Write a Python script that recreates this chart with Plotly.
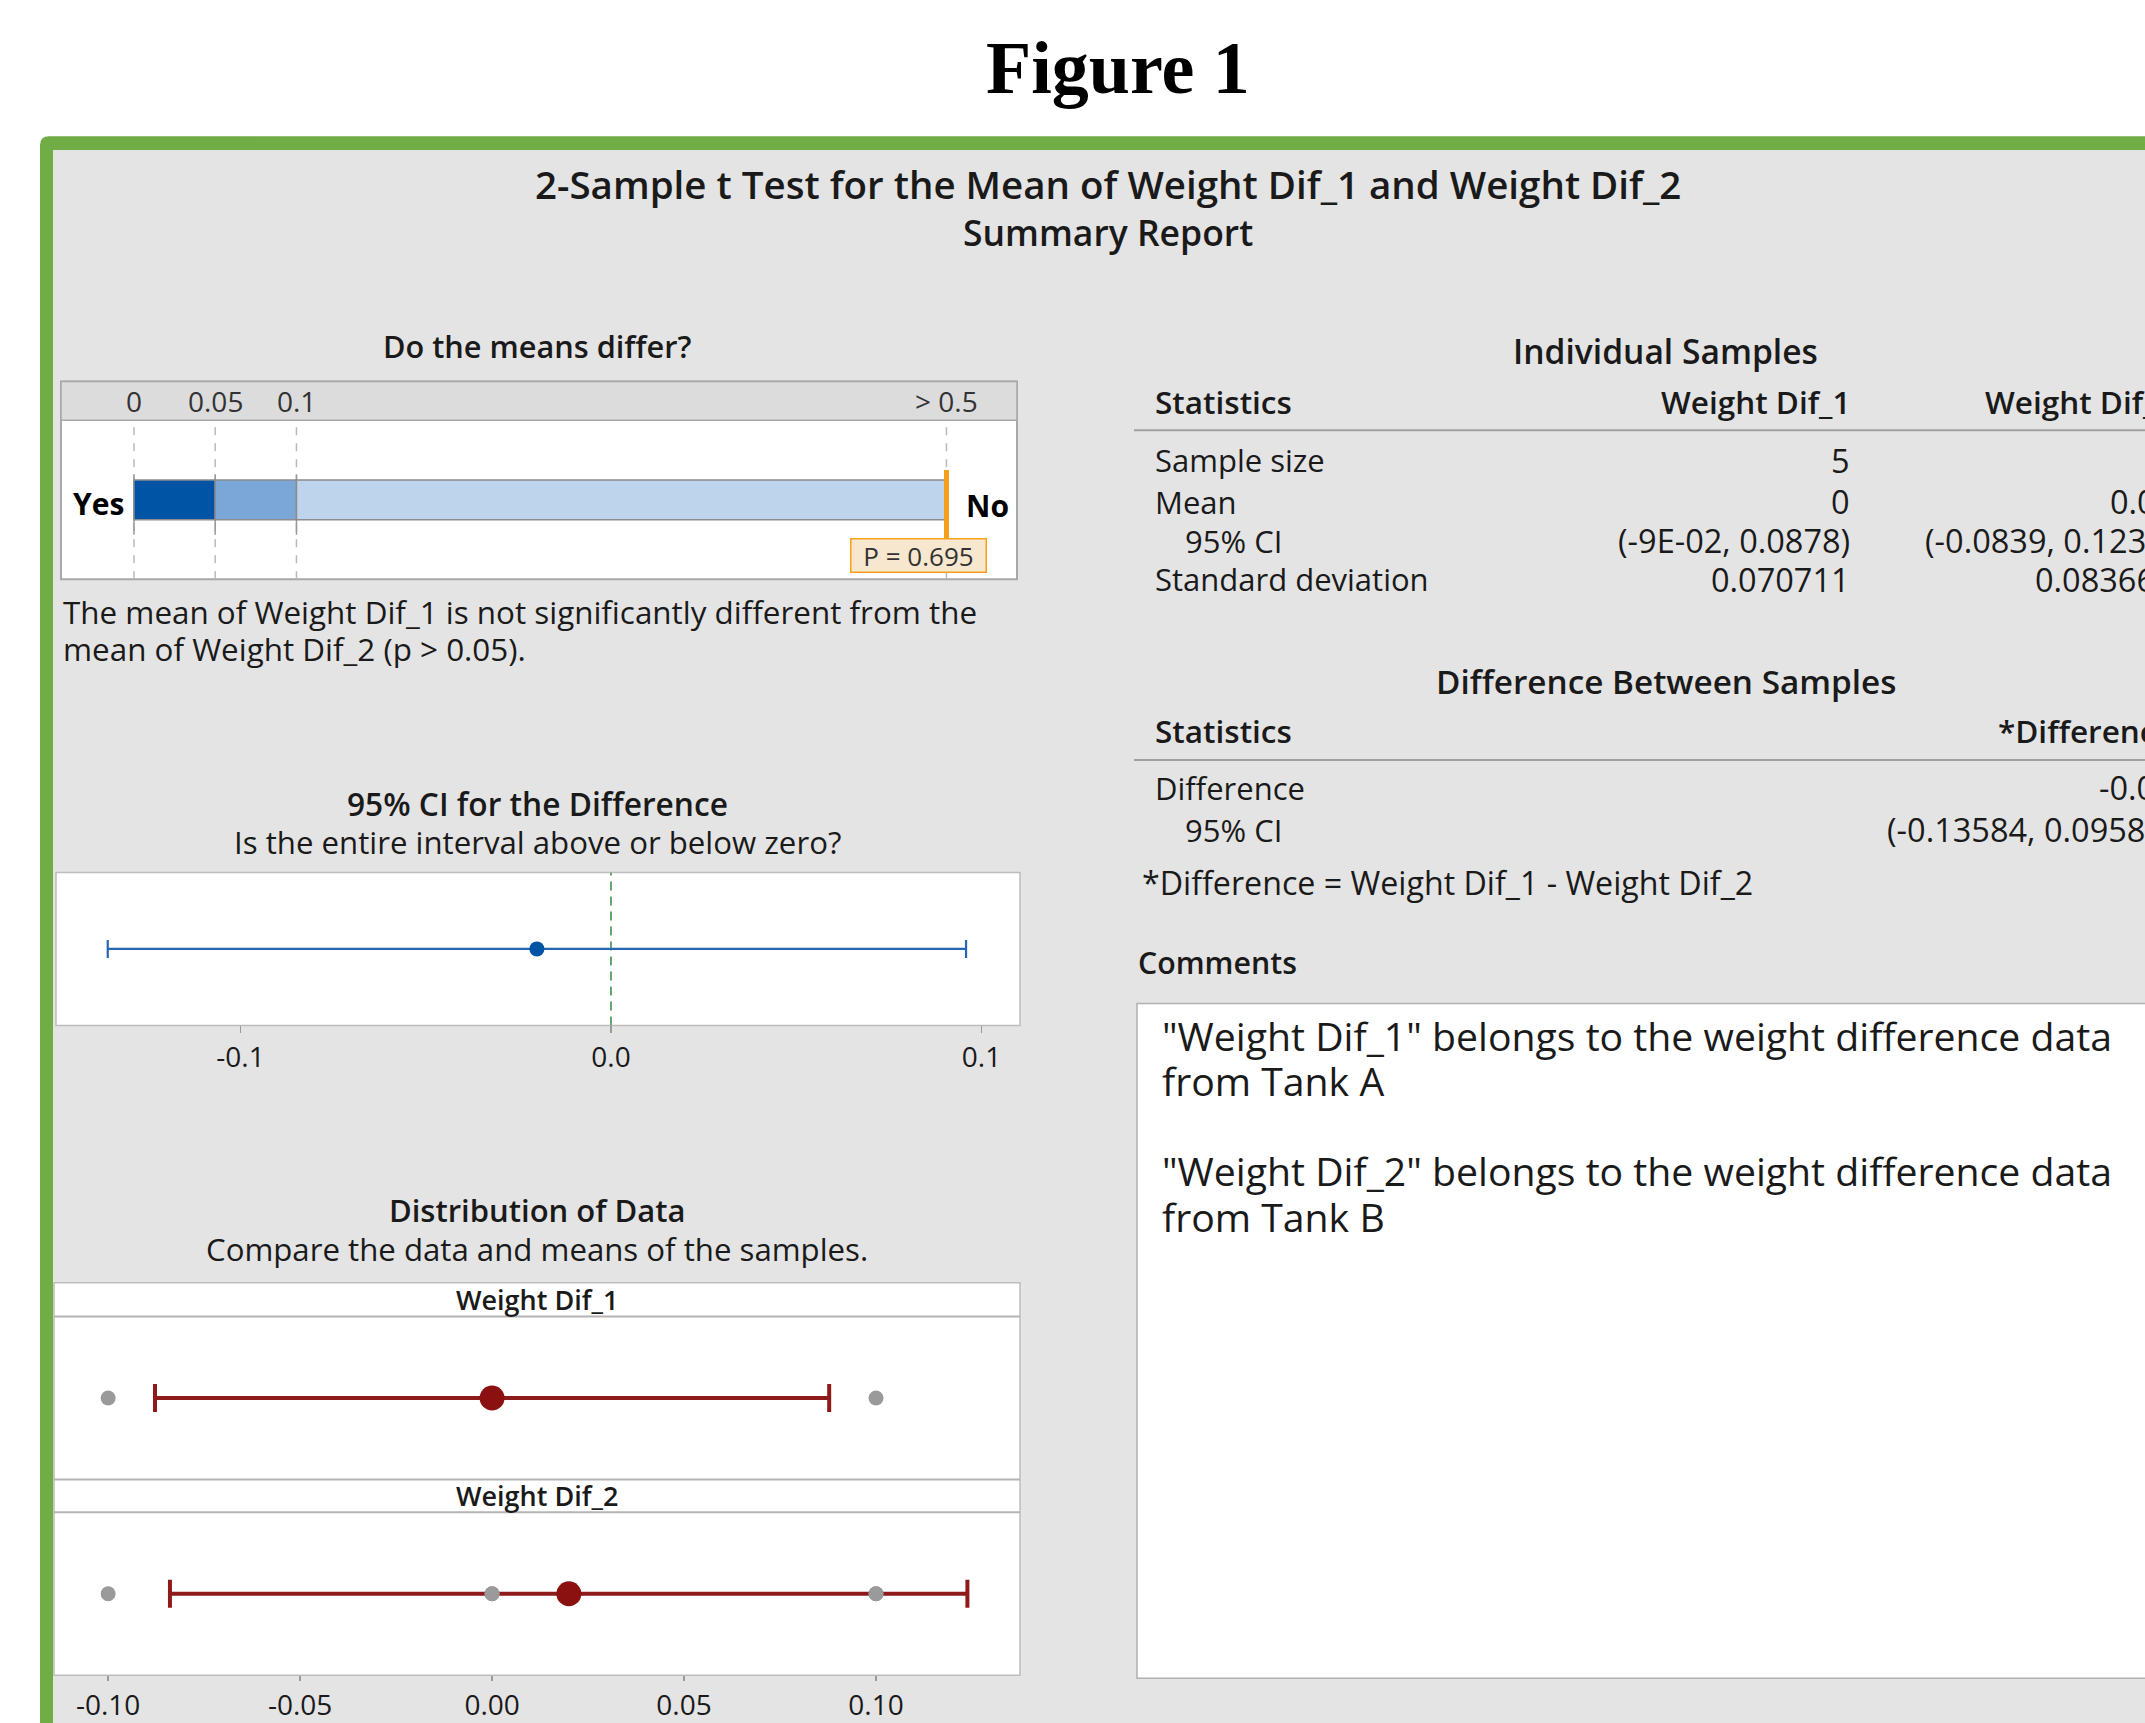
import plotly.graph_objects as go

W, H = 2145, 1723
FONT = "Open Sans"
TXT = "#1a1a1a"

# ---------------- data ----------------
p_value = 0.695
p_bounds = [0, 0.05, 0.1, 0.5]
p_ticktext = ["0", "0.05", "0.1", "> 0.5"]

diff_est = -0.02
diff_ci = [-0.13584, 0.09584]
ci_ticks = [-0.1, 0.0, 0.1]

groups = ["Weight Dif_1", "Weight Dif_2"]
wd1 = [-0.1, 0.0, 0.0, 0.0, 0.1]
wd2 = [-0.1, 0.0, 0.0, 0.1, 0.1]
group_means = [0.0, 0.02]
group_ci_low = [-0.0878, -0.0839]
group_ci_high = [0.0878, 0.1238]
dist_ticks = [-0.10, -0.05, 0.00, 0.05, 0.10]

stat_rows = ["Sample size", "Mean", "95% CI", "Standard deviation"]
col1_vals = ["5", "0", "(-9E-02, 0.0878)", "0.070711"]
col2_vals = ["5", "0.02", "(-0.0839, 0.1238)", "0.083666"]
diff_rows = ["Difference", "95% CI"]
diff_vals = ["-0.02", "(-0.13584, 0.09584)"]

comment_lines = ['"Weight Dif_1" belongs to the weight difference data', 'from Tank A', '',
                 '"Weight Dif_2" belongs to the weight difference data', 'from Tank B']


# ---------------- helpers ----------------
def px(x):
    return x / W


def py(y):
    return 1 - y / H


shapes = []
ann = []


def text(x, y, s, size=31, weight=400, anchor="center", color=TXT, family=FONT):
    ann.append(dict(x=px(x), y=py(y), xref="paper", yref="paper", text=s, showarrow=False,
                    xanchor=anchor, yanchor="middle",
                    font=dict(family=family, size=size, color=color, weight=weight)))


def rect(x0, y0, x1, y1, fill, line=None, lw=0):
    shapes.append(dict(type="rect", xref="paper", yref="paper", x0=px(x0), x1=px(x1),
                       y0=py(y1), y1=py(y0), fillcolor=fill,
                       line=dict(color=line or fill, width=lw), layer="below"))


def hline(x0, x1, y, color, width):
    shapes.append(dict(type="line", xref="paper", yref="paper", x0=px(x0), x1=px(x1),
                       y0=py(y), y1=py(y), line=dict(color=color, width=width), layer="below"))


# ---------------- frame ----------------
r = 9
frame_path = (f"M {px(40)},{py(1800)} L {px(40)},{py(137 + r)} Q {px(40)},{py(137)} {px(40 + r)},{py(137)} "
              f"L {px(2250)},{py(137)} L {px(2250)},{py(1800)} Z")
shapes.append(dict(type="path", xref="paper", yref="paper", path=frame_path,
                   fillcolor="#70AD47", line=dict(width=0), layer="below"))
rect(53, 151, 2250, 1800, "#E4E4E4")

# panel boxes
rect(61, 384, 1017, 583, "white", "#A8A8A8", 2)
rect(61, 384, 1017, 423, "#DCDCDC", "#A8A8A8", 1.5)
rect(56, 878, 1020, 1032, "white", "#BDBDBD", 1.5)
rect(54, 1291, 1020, 1686, "white", "#BDBDBD", 1.5)
hline(54, 1020, 1325, "#B4B4B4", 2)
hline(54, 1020, 1489, "#B4B4B4", 2)
hline(54, 1020, 1522, "#B4B4B4", 2)
rect(1137, 1010, 2250, 1689, "white", "#B0B0B0", 1.5)
hline(1134, 2250, 433, "#A0A0A0", 2)
hline(1134, 2250, 765, "#A0A0A0", 2)

fig = go.Figure()

# ---------------- p-value bar ----------------
fig.add_trace(go.Bar(
    y=[0.5] * (len(p_bounds) - 1), base=p_bounds[:-1],
    x=[b - a for a, b in zip(p_bounds[:-1], p_bounds[1:])],
    orientation="h", width=0.25,
    marker=dict(color=["#0054A6", "#7BA7D8", "#BED3EC"], line=dict(color="#8C8C8C", width=1.5)),
    xaxis="x", yaxis="y", hoverinfo="skip"))

for b in p_bounds:
    shapes.append(dict(type="line", xref="x", yref="y", x0=b, x1=b, y0=0, y1=1,
                       line=dict(color="#BBBBBB", width=1.5, dash="8px,8px"), layer="below"))
for b in p_bounds[:-1]:
    shapes.append(dict(type="line", xref="x", yref="y", x0=b, x1=b, y0=0.28, y1=0.66,
                       line=dict(color="#9A9A9A", width=1.5), layer="below"))
for b, t in zip(p_bounds, p_ticktext):
    ann.append(dict(x=b, y=py(404), xref="x", yref="paper", text=t, showarrow=False,
                    xanchor="center", yanchor="middle", font=dict(family=FONT, size=28, color="#333333")))

p_pos = min(p_value, p_bounds[-1])
shapes.append(dict(type="line", xref="x", yref="paper", x0=p_pos, x1=p_pos, y0=py(543), y1=py(473),
                   line=dict(color="#F5A01A", width=5), layer="above"))
ann.append(dict(x=p_pos, xshift=-28, y=py(559), xref="x", yref="paper", text=f"P = {p_value:.3f}",
                showarrow=False, xanchor="center", yanchor="middle", width=134, height=32, borderpad=0,
                bgcolor="#F8E7CF", bordercolor="#F5A01A", borderwidth=1.5,
                font=dict(family=FONT, size=26, color="#333333")))
text(98, 507, "Yes", 30, 700, color="black")
text(987, 509, "No", 30, 700, color="black")

# ---------------- CI for difference ----------------
shapes.append(dict(type="line", xref="x2", yref="y2", x0=0, x1=0, y0=-1, y1=1,
                   line=dict(color="#2E8B3E", width=1.5, dash="9px,6px"), layer="below"))
fig.add_trace(go.Scatter(
    x=[diff_est], y=[0], mode="markers",
    marker=dict(size=15, color="#0054A6"),
    error_x=dict(type="data", symmetric=False, array=[diff_ci[1] - diff_est],
                 arrayminus=[diff_est - diff_ci[0]], color="#2466B3", thickness=2.2, width=9),
    xaxis="x2", yaxis="y2", hoverinfo="skip"))

# ---------------- distribution ----------------
for i, data in enumerate([wd1, wd2]):
    xa, ya = ("x3", "y3") if i == 0 else ("x4", "y4")
    m = group_means[i]
    fig.add_trace(go.Scatter(
        x=[m], y=[0], mode="markers", marker=dict(size=1, color="#8E1A1A"),
        error_x=dict(type="data", symmetric=False, array=[group_ci_high[i] - m],
                     arrayminus=[m - group_ci_low[i]], color="#8E1A1A", thickness=4, width=14),
        xaxis=xa, yaxis=ya, hoverinfo="skip"))
    fig.add_trace(go.Scatter(
        x=data, y=[0] * len(data), mode="markers", marker=dict(size=15, color="#9A9A9A"),
        xaxis=xa, yaxis=ya, hoverinfo="skip"))
    fig.add_trace(go.Scatter(
        x=[m], y=[0], mode="markers", marker=dict(size=25, color="#8B1111"),
        xaxis=xa, yaxis=ya, hoverinfo="skip"))

# ---------------- texts ----------------
text(1118, 68, "Figure 1", 74, 700, color="black", family="Liberation Serif")
text(1108, 185, "2-Sample t Test for the Mean of Weight Dif_1 and Weight Dif_2", 38.5, 600)
text(1108, 233, "Summary Report", 35.5, 600)

text(537, 348, "Do the means differ?", 30.7, 600)
text(61, 615, "The mean of Weight Dif_1 is not significantly different from the", 31.4, anchor="left")
text(61, 653, "mean of Weight Dif_2 (p > 0.05).", 31.4, anchor="left")
text(537, 809, "95% CI for the Difference", 31.7, 600)
text(537, 847, "Is the entire interval above or below zero?", 31.2)
text(537, 1218, "Distribution of Data", 31, 600)
text(537, 1257, "Compare the data and means of the samples.", 31.2)
text(537, 1308, groups[0], 27, 600)
text(537, 1505, groups[1], 27, 600)

VAL = 32.5
C2 = 2176
text(1666, 353, "Individual Samples", 33.6, 600)
text(1153, 404, "Statistics", 31.5, 600, anchor="left")
text(1852, 404, groups[0], 31.5, 600, anchor="right")
text(C2, 404, groups[1], 31.5, 600, anchor="right")
row_y = [463, 505, 544, 583]
for lab, v1, v2, yy in zip(stat_rows, col1_vals, col2_vals, row_y):
    text(1183 if lab == "95% CI" else 1153, yy, lab, 31, anchor="left")
    text(1852, yy, v1, VAL, anchor="right")
    text(C2, yy, v2, VAL, anchor="right")

text(1666, 685, "Difference Between Samples", 33.3, 600)
text(1153, 735, "Statistics", 31.5, 600, anchor="left")
text(C2, 735, "*Difference", 31.5, 600, anchor="right")
for lab, v, yy in zip(diff_rows, diff_vals, [793, 835]):
    text(1183 if lab == "95% CI" else 1153, yy, lab, 31, anchor="left")
    text(C2, yy, v, VAL, anchor="right")
text(1140, 888, "*Difference = Weight Dif_1 - Weight Dif_2", 32.2, anchor="left")
text(1136, 969, "Comments", 30.3, 600, anchor="left")
cy = 1042
for line in comment_lines:
    if line:
        text(1160, cy, line, 39.2, anchor="left")
    cy += 45.5

# ---------------- layout ----------------
common = dict(showgrid=False, zeroline=False, showline=False, fixedrange=True)
dist_range = [-0.1141, 0.1375]
fig.update_layout(
    width=W, height=H, margin=dict(l=0, r=0, t=0, b=0),
    paper_bgcolor="white", plot_bgcolor="rgba(0,0,0,0)", showlegend=False,
    barmode="overlay",
    xaxis=dict(domain=[px(61), px(1017)], range=[-0.0449, 0.5434], showticklabels=False, ticks="",
               anchor="y", **common),
    yaxis=dict(domain=[py(583), py(423)], range=[0, 1], showticklabels=False, ticks="", anchor="x", **common),
    xaxis2=dict(domain=[px(56), px(1020)], range=[-0.1498, 0.1104], tickvals=ci_ticks,
                ticktext=[f"{v:.1f}" for v in ci_ticks], ticks="outside", ticklen=7, tickwidth=1.5,
                tickcolor="#9A9A9A", tickfont=dict(family=FONT, size=28, color=TXT), anchor="y2", **common),
    yaxis2=dict(domain=[py(1032), py(878)], range=[-1, 1], showticklabels=False, ticks="", anchor="x2", **common),
    xaxis3=dict(domain=[px(54), px(1020)], range=dist_range, showticklabels=False, ticks="", anchor="y3", **common),
    yaxis3=dict(domain=[py(1489), py(1325)], range=[-1, 1], showticklabels=False, ticks="", anchor="x3", **common),
    xaxis4=dict(domain=[px(54), px(1020)], range=dist_range, tickvals=dist_ticks,
                ticktext=[f"{v:.2f}" for v in dist_ticks], ticks="outside", ticklen=5, tickwidth=1.5,
                tickcolor="#9A9A9A", tickfont=dict(family=FONT, size=28, color=TXT), anchor="y4", **common),
    yaxis4=dict(domain=[py(1686), py(1522)], range=[-1, 1], showticklabels=False, ticks="", anchor="x4", **common),
    shapes=shapes, annotations=ann,
)

post = ("document.body.style.margin='0';document.body.style.overflow='hidden';"
        "document.documentElement.style.overflow='hidden';"
        "var d=document.querySelector('.plotly-graph-div');"
        "d.style.position='fixed';d.style.left='0px';d.style.top='0px';")
fig.write_html("out.html", config={"displayModeBar": False, "staticPlot": True}, post_script=post)
